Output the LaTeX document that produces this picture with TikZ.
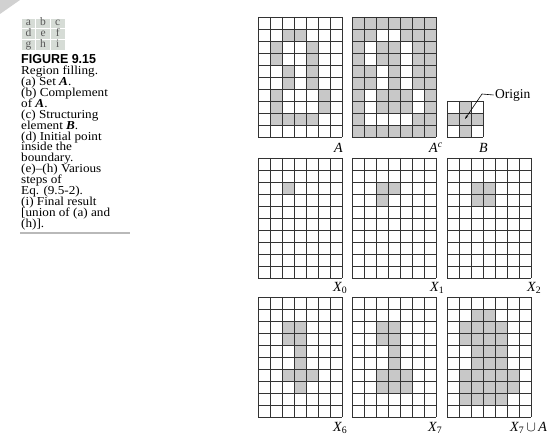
\documentclass[tikz,border=0pt]{standalone}
\usepackage{fontspec}
\setmainfont{Liberation Serif}
\setsansfont{Liberation Sans}
\newfontfamily\captionserif[FakeStretch=1.08,Ligatures=TeX]{Liberation Serif}
\newfontfamily\captionsans[FakeStretch=0.96]{Liberation Sans}
\usetikzlibrary{arrows.meta}
\definecolor{cellgray}{RGB}{200,200,200}
\definecolor{keygray}{RGB}{214,220,214}
\definecolor{rulegray}{RGB}{185,185,185}
\begin{document}
\begin{tikzpicture}[x=1pt,y=-1pt,
  every node/.style={font=\fontsize{12}{12}\selectfont},
  gridline/.style={line width=0.9pt,draw=black!80},
  panellabel/.style={anchor=base west,inner sep=0pt,font=\fontsize{14}{14}\selectfont\itshape},
  keycell/.style={fill=keygray,draw=white,line width=0.8pt,minimum width=14.7pt,minimum height=10.7pt,
    inner sep=0pt,text height=7pt,text depth=2.2pt,text=black!65,font=\fontsize{11.5}{11.5}\selectfont}]
  \useasboundingbox (0,0) rectangle (548,435);
  \fill[black!18] (0,0) -- (20,0) -- (0,14) -- cycle;
  \foreach \ltr [count=\n from 0] in {a,b,c,d,e,f,g,h,i} {
    \pgfmathtruncatemacro\kr{\n/3}
    \pgfmathtruncatemacro\kc{mod(\n,3)}
    \node[keycell] (key\ltr) at (28.4+\kc*14.7, 23.4+\kr*10.7) {\ltr};
  }
  \node[anchor=north west,align=left,inner sep=0pt,
    font={\captionserif\fontsize{12.2}{10.9}\selectfont\lineskiplimit=-20pt\lineskip=0pt}] (caption) at (21,54.5)
    {{\captionsans\bfseries\fontsize{13}{10.9}\selectfont FIGURE 9.15}\\Region filling.\\(a) Set \textbf{\textit{A}}.\\(b) Complement\\
     of \textbf{\textit{A}}.\\(c) Structuring\\element \textbf{\textit{B}}.\\(d) Initial point\\inside the\\
     boundary.\\(e)–(h) Various\\steps of\\Eq. (9.5-2).\\(i) Final result\\{[}union of (a) and\\(h)].};
  \draw[rulegray,line width=1.5pt] (20,233) -- (130,233);
  \foreach \px/\py/\bg/\fg/\cells in {
      258/17/white/cellgray/{1/2,1/3,2/1,2/4,3/1,3/4,4/2,4/4,5/2,5/4,6/1,6/5,7/1,7/5,8/1,8/2,8/3,8/4},
      352/17/cellgray/white/{1/2,1/3,2/1,2/4,3/1,3/4,4/2,4/4,5/2,5/4,6/1,6/5,7/1,7/5,8/1,8/2,8/3,8/4},
      258/158/white/cellgray/{2/2},
      352/158/white/cellgray/{2/2,2/3,3/2},
      447/158/white/cellgray/{2/2,2/3,3/2,3/3},
      258/297/white/cellgray/{2/2,2/3,3/2,3/3,4/3,5/3,6/2,6/3,6/4,7/3},
      352/297/white/cellgray/{2/2,2/3,3/2,3/3,4/3,5/3,6/2,6/3,6/4,7/2,7/3,7/4},
      447/297/white/cellgray/{1/2,1/3,2/1,2/2,2/3,2/4,3/1,3/2,3/3,3/4,4/2,4/3,4/4,5/2,5/3,5/4,
        6/1,6/2,6/3,6/4,6/5,7/1,7/2,7/3,7/4,7/5,8/1,8/2,8/3,8/4}} {
    \fill[fill=\bg] (\px,\py) rectangle ++(84,120);
    \foreach \r/\k in \cells
      \fill[fill=\fg] (\px+\k*12,\py+\r*12) rectangle ++(12,12);
    \foreach \i in {0,...,7}
      \draw[gridline] (\px+\i*12,\py) -- ++(0,120);
    \foreach \j in {0,...,10}
      \draw[gridline] (\px,\py+\j*12) -- ++(84,0);
  }
  \foreach \r/\k in {0/1,1/0,1/1,1/2,2/1}
    \fill[cellgray] (447+\k*12,101+\r*12) rectangle ++(12,12);
  \foreach \i in {0,...,3} {
    \draw[gridline] (447+\i*12,101) -- ++(0,36);
    \draw[gridline] (447,101+\i*12) -- ++(36,0);
  }
  \coordinate (orig) at (465,119);
  \coordinate (bend) at (482,94);
  \node[anchor=west,inner sep=1.5pt,font=\fontsize{13.5}{12}\selectfont] (origin) at (493.5,95) {Origin};
  \draw[line width=0.6pt,-{Stealth[length=4pt,width=2.4pt]}] (origin.west) -- (bend) -- (orig);
  \node[panellabel] (labA) at (334,153) {A};
  \node[panellabel] (labAc) at (429,153) {A\textsuperscript{c}};
  \node[panellabel] (labB) at (479,153) {B};
  \node[panellabel] (labX0) at (333,291) {X\textsubscript{\upshape 0}};
  \node[panellabel] (labX1) at (430,291) {X\textsubscript{\upshape 1}};
  \node[panellabel] (labX2) at (527,291) {X\textsubscript{\upshape 2}};
  \node[panellabel] (labX6) at (333,431) {X\textsubscript{\upshape 6}};
  \node[panellabel] (labX7) at (428,431) {X\textsubscript{\upshape 7}};
  \node[panellabel] (labU) at (510,431) {X\textsubscript{\upshape 7}\,$\cup$\,A};
\end{tikzpicture}
\end{document}
